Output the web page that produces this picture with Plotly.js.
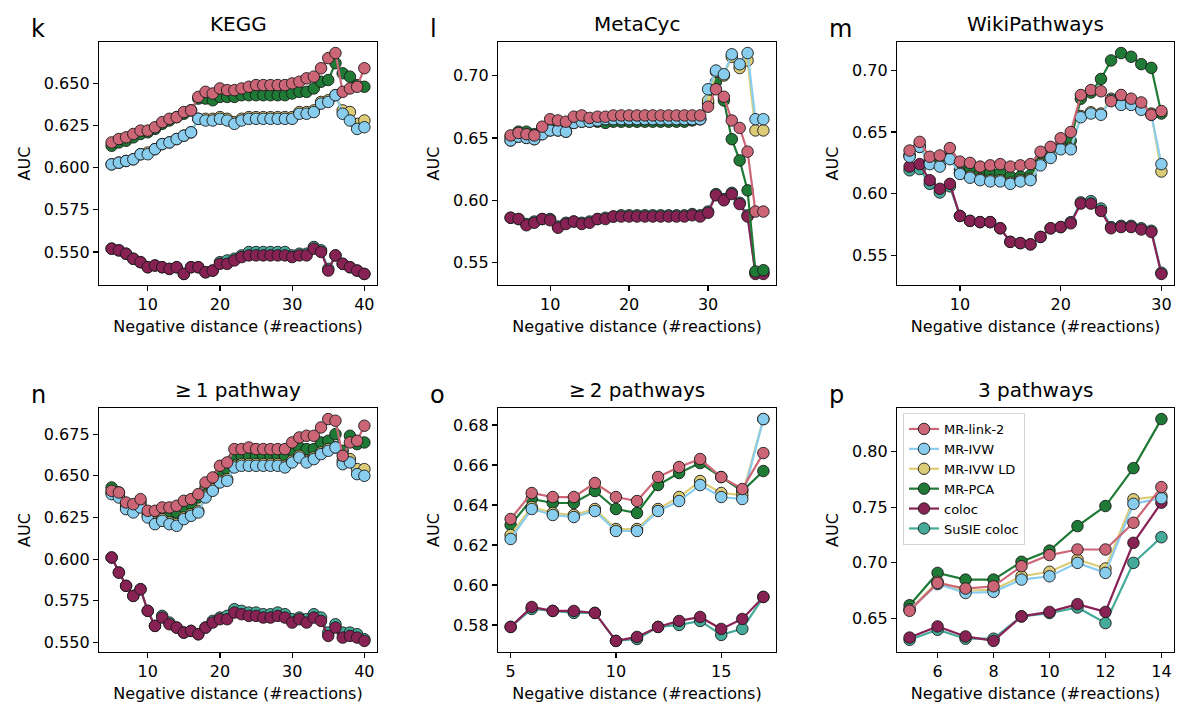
<!DOCTYPE html>
<html>
<head>
<meta charset="utf-8">
<script src="https://cdn.plot.ly/plotly-3.0.1.min.js"></script>
<style>
  html, body { margin: 0; padding: 0; background: #fff; }
  #chart { width: 1200px; height: 714px; }
</style>
</head>
<body>
<div id="chart"></div>
<script>
// series names and colours (legend order)
const methods = ["MR-link-2", "MR-IVW", "MR-IVW LD", "MR-PCA", "coloc", "SuSIE coloc"];
const colors = ["#cc6677", "#88ccee", "#ddcc77", "#1e7a35", "#882255", "#44aa99"];

// k - KEGG
const kegg_x = [5,6,7,8,9,10,11,12,13,14,15,16,17,18,19,20,21,22,23,24,25,26,27,28,29,30,31,32,33,34,35,36,37,38,39,40];
const kegg_link2 = [0.615,0.617,0.618,0.620,0.622,0.622,0.624,0.627,0.629,0.630,0.633,0.634,0.642,0.645,0.644,0.647,0.646,0.646,0.647,0.648,0.649,0.649,0.649,0.649,0.649,0.650,0.651,0.653,0.654,0.659,0.665,0.668,0.645,0.647,0.648,0.659];
const kegg_ivw = [0.602,0.603,0.604,0.605,0.608,0.608,0.611,0.614,0.615,0.617,0.619,0.621,0.629,0.628,0.628,0.629,0.628,0.626,0.628,0.629,0.629,0.629,0.629,0.629,0.629,0.629,0.632,0.632,0.633,0.638,0.639,0.643,0.632,0.628,0.623,0.624];
const kegg_ivwld = [0.602,0.603,0.604,0.605,0.608,0.609,0.611,0.614,0.615,0.617,0.619,0.621,0.629,0.629,0.629,0.630,0.629,0.627,0.629,0.630,0.630,0.630,0.630,0.630,0.630,0.630,0.633,0.633,0.634,0.639,0.640,0.643,0.634,0.633,0.626,0.628];
const kegg_pca = [0.613,0.615,0.616,0.618,0.620,0.621,0.623,0.626,0.628,0.630,0.632,0.634,0.641,0.641,0.640,0.642,0.642,0.642,0.643,0.643,0.643,0.643,0.643,0.643,0.643,0.644,0.645,0.645,0.647,0.651,0.652,0.662,0.656,0.654,0.649,0.648];
const kegg_coloc = [0.552,0.551,0.549,0.546,0.544,0.541,0.542,0.541,0.540,0.541,0.537,0.541,0.541,0.538,0.539,0.543,0.543,0.545,0.547,0.548,0.548,0.548,0.548,0.548,0.548,0.547,0.548,0.548,0.552,0.550,0.539,0.548,0.543,0.541,0.539,0.537];
const kegg_susie = [0.552,0.551,0.549,0.546,0.544,0.541,0.542,0.541,0.540,0.541,0.537,0.541,0.541,0.538,0.539,0.544,0.545,0.546,0.548,0.550,0.550,0.550,0.550,0.550,0.550,0.548,0.549,0.549,0.553,0.551,0.540,0.548,0.543,0.541,0.539,0.537];

// l - MetaCyc
const meta_x = [5,6,7,8,9,10,11,12,13,14,15,16,17,18,19,20,21,22,23,24,25,26,27,28,29,30,31,32,33,34,35,36,37];
const meta_link2 = [0.652,0.654,0.653,0.652,0.659,0.665,0.664,0.663,0.667,0.668,0.666,0.667,0.667,0.668,0.668,0.668,0.668,0.668,0.668,0.668,0.668,0.668,0.668,0.668,0.668,0.675,0.689,0.683,0.664,0.658,0.639,0.591,0.591];
const meta_ivw = [0.648,0.651,0.650,0.649,0.653,0.656,0.656,0.655,0.662,0.663,0.663,0.664,0.665,0.665,0.665,0.665,0.665,0.665,0.665,0.665,0.665,0.665,0.665,0.665,0.665,0.689,0.704,0.701,0.717,0.709,0.718,0.665,0.665];
const meta_ivwld = [0.648,0.651,0.650,0.649,0.653,0.656,0.656,0.655,0.662,0.663,0.663,0.664,0.665,0.665,0.665,0.665,0.665,0.665,0.665,0.665,0.665,0.665,0.665,0.665,0.665,0.680,0.703,0.700,0.715,0.706,0.712,0.656,0.656];
const meta_pca = [0.651,0.655,0.655,0.653,0.658,0.660,0.661,0.660,0.664,0.664,0.664,0.663,0.662,0.663,0.663,0.663,0.663,0.663,0.663,0.663,0.663,0.663,0.663,0.664,0.665,0.678,0.695,0.680,0.649,0.632,0.608,0.543,0.544];
const meta_coloc = [0.586,0.585,0.580,0.582,0.585,0.584,0.578,0.581,0.583,0.581,0.582,0.585,0.585,0.587,0.587,0.587,0.587,0.587,0.587,0.587,0.587,0.587,0.587,0.588,0.587,0.590,0.604,0.600,0.605,0.597,0.587,0.541,0.541];
const meta_susie = [0.586,0.585,0.581,0.583,0.585,0.585,0.579,0.582,0.583,0.582,0.583,0.585,0.586,0.587,0.588,0.588,0.588,0.588,0.588,0.588,0.588,0.588,0.588,0.589,0.588,0.591,0.605,0.601,0.606,0.598,0.588,0.542,0.542];

// m - WikiPathways
const wiki_x = [5,6,7,8,9,10,11,12,13,14,15,16,17,18,19,20,21,22,23,24,25,26,27,28,29,30];
const wiki_link2 = [0.635,0.642,0.630,0.631,0.637,0.626,0.625,0.622,0.623,0.624,0.622,0.623,0.624,0.634,0.638,0.645,0.650,0.680,0.684,0.683,0.675,0.680,0.677,0.674,0.664,0.667];
const wiki_ivw = [0.630,0.638,0.624,0.622,0.628,0.616,0.613,0.611,0.610,0.610,0.608,0.610,0.611,0.623,0.629,0.636,0.636,0.662,0.665,0.664,0.676,0.672,0.672,0.668,0.664,0.624];
const wiki_ivwld = [0.631,0.639,0.625,0.623,0.629,0.617,0.614,0.612,0.611,0.611,0.609,0.611,0.612,0.624,0.630,0.637,0.637,0.663,0.666,0.665,0.677,0.673,0.673,0.669,0.665,0.618];
const wiki_pca = [0.631,0.638,0.626,0.625,0.630,0.620,0.619,0.617,0.617,0.617,0.614,0.614,0.615,0.628,0.634,0.640,0.643,0.677,0.682,0.693,0.708,0.714,0.711,0.705,0.702,0.665];
const wiki_coloc = [0.622,0.624,0.611,0.604,0.608,0.582,0.578,0.577,0.577,0.572,0.561,0.560,0.559,0.565,0.572,0.573,0.576,0.592,0.592,0.586,0.572,0.573,0.573,0.571,0.569,0.535];
const wiki_susie = [0.619,0.620,0.608,0.601,0.606,0.582,0.578,0.577,0.577,0.572,0.561,0.560,0.559,0.565,0.572,0.573,0.577,0.593,0.594,0.588,0.573,0.574,0.574,0.572,0.570,0.536];

// n - >=1 pathway
const one_x = [5,6,7,8,9,10,11,12,13,14,15,16,17,18,19,20,21,22,23,24,25,26,27,28,29,30,31,32,33,34,35,36,37,38,39,40];
const one_link2 = [0.641,0.640,0.634,0.633,0.636,0.629,0.629,0.631,0.631,0.632,0.635,0.636,0.639,0.646,0.649,0.656,0.658,0.666,0.666,0.667,0.666,0.666,0.666,0.666,0.666,0.670,0.673,0.674,0.674,0.679,0.684,0.683,0.662,0.670,0.671,0.680];
const one_ivw = [0.639,0.637,0.630,0.628,0.631,0.625,0.621,0.623,0.621,0.620,0.624,0.626,0.628,0.637,0.641,0.646,0.647,0.655,0.656,0.656,0.656,0.656,0.656,0.656,0.655,0.658,0.661,0.658,0.660,0.663,0.665,0.667,0.657,0.658,0.651,0.650];
const one_ivwld = [0.640,0.638,0.631,0.629,0.632,0.626,0.622,0.624,0.622,0.621,0.625,0.627,0.629,0.638,0.642,0.647,0.648,0.656,0.657,0.657,0.657,0.657,0.657,0.657,0.656,0.659,0.662,0.659,0.661,0.664,0.666,0.667,0.659,0.660,0.654,0.654];
const one_pca = [0.643,0.640,0.633,0.631,0.634,0.628,0.627,0.628,0.627,0.628,0.631,0.633,0.637,0.643,0.646,0.651,0.654,0.661,0.662,0.662,0.662,0.662,0.662,0.662,0.662,0.665,0.667,0.666,0.666,0.670,0.671,0.675,0.665,0.674,0.669,0.670];
const one_coloc = [0.601,0.592,0.584,0.578,0.582,0.569,0.560,0.565,0.561,0.559,0.556,0.557,0.555,0.559,0.562,0.564,0.564,0.568,0.567,0.566,0.566,0.565,0.565,0.566,0.565,0.562,0.564,0.562,0.565,0.563,0.554,0.559,0.553,0.554,0.553,0.551];
const one_susie = [0.601,0.592,0.584,0.578,0.582,0.569,0.560,0.566,0.562,0.559,0.556,0.557,0.555,0.559,0.563,0.565,0.566,0.570,0.569,0.568,0.568,0.567,0.567,0.568,0.567,0.564,0.565,0.564,0.567,0.565,0.556,0.561,0.556,0.556,0.555,0.552];

// o - >=2 pathways
const two_x = [5,6,7,8,9,10,11,12,13,14,15,16,17];
const two_link2 = [0.633,0.646,0.644,0.644,0.651,0.644,0.642,0.654,0.659,0.663,0.654,0.648,0.666];
const two_ivw = [0.623,0.638,0.635,0.634,0.637,0.627,0.627,0.637,0.642,0.650,0.644,0.643,0.683];
const two_ivwld = [0.625,0.639,0.636,0.635,0.638,0.628,0.628,0.638,0.644,0.652,0.646,0.645,0.683];
const two_pca = [0.630,0.643,0.641,0.641,0.647,0.638,0.636,0.650,0.656,0.661,0.654,0.647,0.657];
const two_coloc = [0.579,0.589,0.587,0.587,0.586,0.572,0.574,0.579,0.582,0.584,0.578,0.583,0.594];
const two_susie = [0.579,0.588,0.587,0.586,0.586,0.572,0.573,0.579,0.580,0.582,0.575,0.578,0.594];

// p - 3 pathways
const three_x = [5,6,7,8,9,10,11,12,13,14];
const three_link2 = [0.657,0.682,0.677,0.679,0.697,0.707,0.712,0.712,0.736,0.768];
const three_ivw = [0.658,0.681,0.673,0.674,0.685,0.688,0.700,0.691,0.753,0.758];
const three_ivwld = [0.658,0.683,0.675,0.676,0.688,0.692,0.703,0.695,0.757,0.760];
const three_pca = [0.662,0.691,0.685,0.685,0.701,0.711,0.733,0.751,0.785,0.829];
const three_coloc = [0.633,0.643,0.634,0.630,0.652,0.656,0.663,0.656,0.718,0.754];
const three_susie = [0.631,0.640,0.632,0.632,0.652,0.655,0.660,0.646,0.700,0.723];

const panels = [
  { letter: "k", title: "KEGG", x: kegg_x, ys: [kegg_link2, kegg_ivw, kegg_ivwld, kegg_pca, kegg_coloc, kegg_susie], xt: [10,20,30,40], y0: 0.55, dy: 0.025, fmt: ".3f" },
  { letter: "l", title: "MetaCyc", x: meta_x, ys: [meta_link2, meta_ivw, meta_ivwld, meta_pca, meta_coloc, meta_susie], xt: [10,20,30], y0: 0.55, dy: 0.05, fmt: ".2f" },
  { letter: "m", title: "WikiPathways", x: wiki_x, ys: [wiki_link2, wiki_ivw, wiki_ivwld, wiki_pca, wiki_coloc, wiki_susie], xt: [10,20,30], y0: 0.55, dy: 0.05, fmt: ".2f" },
  { letter: "n", title: "\u2265\u20091 pathway", x: one_x, ys: [one_link2, one_ivw, one_ivwld, one_pca, one_coloc, one_susie], xt: [10,20,30,40], y0: 0.55, dy: 0.025, fmt: ".3f" },
  { letter: "o", title: "\u2265\u20092 pathways", x: two_x, ys: [two_link2, two_ivw, two_ivwld, two_pca, two_coloc, two_susie], xt: [5,10,15], y0: 0.58, dy: 0.02, fmt: ".2f" },
  { letter: "p", title: "3 pathways", x: three_x, ys: [three_link2, three_ivw, three_ivwld, three_pca, three_coloc, three_susie], xt: [6,8,10,12,14], y0: 0.65, dy: 0.05, fmt: ".2f" }
];

const W = 1200, H = 714;
const colsPx = [[99, 377], [498, 776], [897, 1174]];
const rowsPx = [[42, 285], [408, 652]];
const FONT = "DejaVu Sans, sans-serif";

function padRange(vals) {
  const lo = Math.min(...vals), hi = Math.max(...vals);
  const pad = (hi - lo) * 0.05;
  return [lo - pad, hi + pad];
}

const traces = [];
const layout = {
  width: W, height: H, autosize: false,
  margin: { l: 0, r: 0, t: 0, b: 0 },
  paper_bgcolor: "#fff", plot_bgcolor: "#fff",
  font: { family: FONT, size: 16, color: "#000" },
  showlegend: true,
  legend: {
    x: 903 / W, y: 1 - 413 / H, xanchor: "left", yanchor: "top",
    bgcolor: "rgba(255,255,255,0.85)", bordercolor: "#d4d4d4", borderwidth: 1,
    font: { family: FONT, size: 13 }, traceorder: "reversed",
    itemwidth: 30, tracegroupgap: 0
  },
  annotations: []
};

panels.forEach((p, i) => {
  const n = i + 1;
  const xa = n === 1 ? "x" : "x" + n;
  const ya = n === 1 ? "y" : "y" + n;
  const c = colsPx[i % 3], r = rowsPx[Math.floor(i / 3)];

  // draw from last to first so MR-link-2 ends on top
  for (let s = methods.length - 1; s >= 0; s--) {
    traces.push({
      x: p.x, y: p.ys[s], xaxis: xa, yaxis: ya,
      type: "scatter", mode: "lines+markers", name: methods[s],
      showlegend: n === 6,
      line: { color: colors[s], width: 2.2 },
      marker: { color: colors[s], size: 11.5, line: { color: "#1a1a1a", width: 0.9 } },
      hoverinfo: "x+y+name"
    });
  }

  const allY = [].concat(...p.ys);
  const axisCommon = {
    showline: true, linecolor: "#000", linewidth: 1.2, mirror: true,
    ticks: "outside", ticklen: 5, tickwidth: 1.2, tickcolor: "#000",
    showgrid: false, zeroline: false,
    tickfont: { family: FONT, size: 16, color: "#000" }
  };
  layout["xaxis" + (n === 1 ? "" : n)] = Object.assign({}, axisCommon, {
    anchor: ya, domain: [c[0] / W, c[1] / W],
    range: padRange(p.x), tickmode: "array", tickvals: p.xt,
    title: { text: "Negative distance (#reactions)", font: { family: FONT, size: 16 }, standoff: 7 }
  });
  layout["yaxis" + (n === 1 ? "" : n)] = Object.assign({}, axisCommon, {
    anchor: xa, domain: [1 - r[1] / H, 1 - r[0] / H],
    range: padRange(allY), tick0: p.y0, dtick: p.dy, tickformat: p.fmt,
    title: { text: "AUC", font: { family: FONT, size: 16 }, standoff: 9 }
  });

  layout.annotations.push({
    text: p.title, xref: "paper", yref: "paper",
    x: (c[0] + c[1]) / 2 / W, y: 1 - r[0] / H, xanchor: "center", yanchor: "bottom",
    yshift: 4, showarrow: false, font: { family: FONT, size: 20 }
  });
  layout.annotations.push({
    text: p.letter, xref: "paper", yref: "paper",
    x: (c[0] - 70) / W, y: 1 - (r[0] - 13) / H, xanchor: "left", yanchor: "middle",
    showarrow: false, font: { family: FONT, size: 24 }
  });
});

Plotly.newPlot("chart", traces, layout, { staticPlot: true, displayModeBar: false });
</script>
</body>
</html>
